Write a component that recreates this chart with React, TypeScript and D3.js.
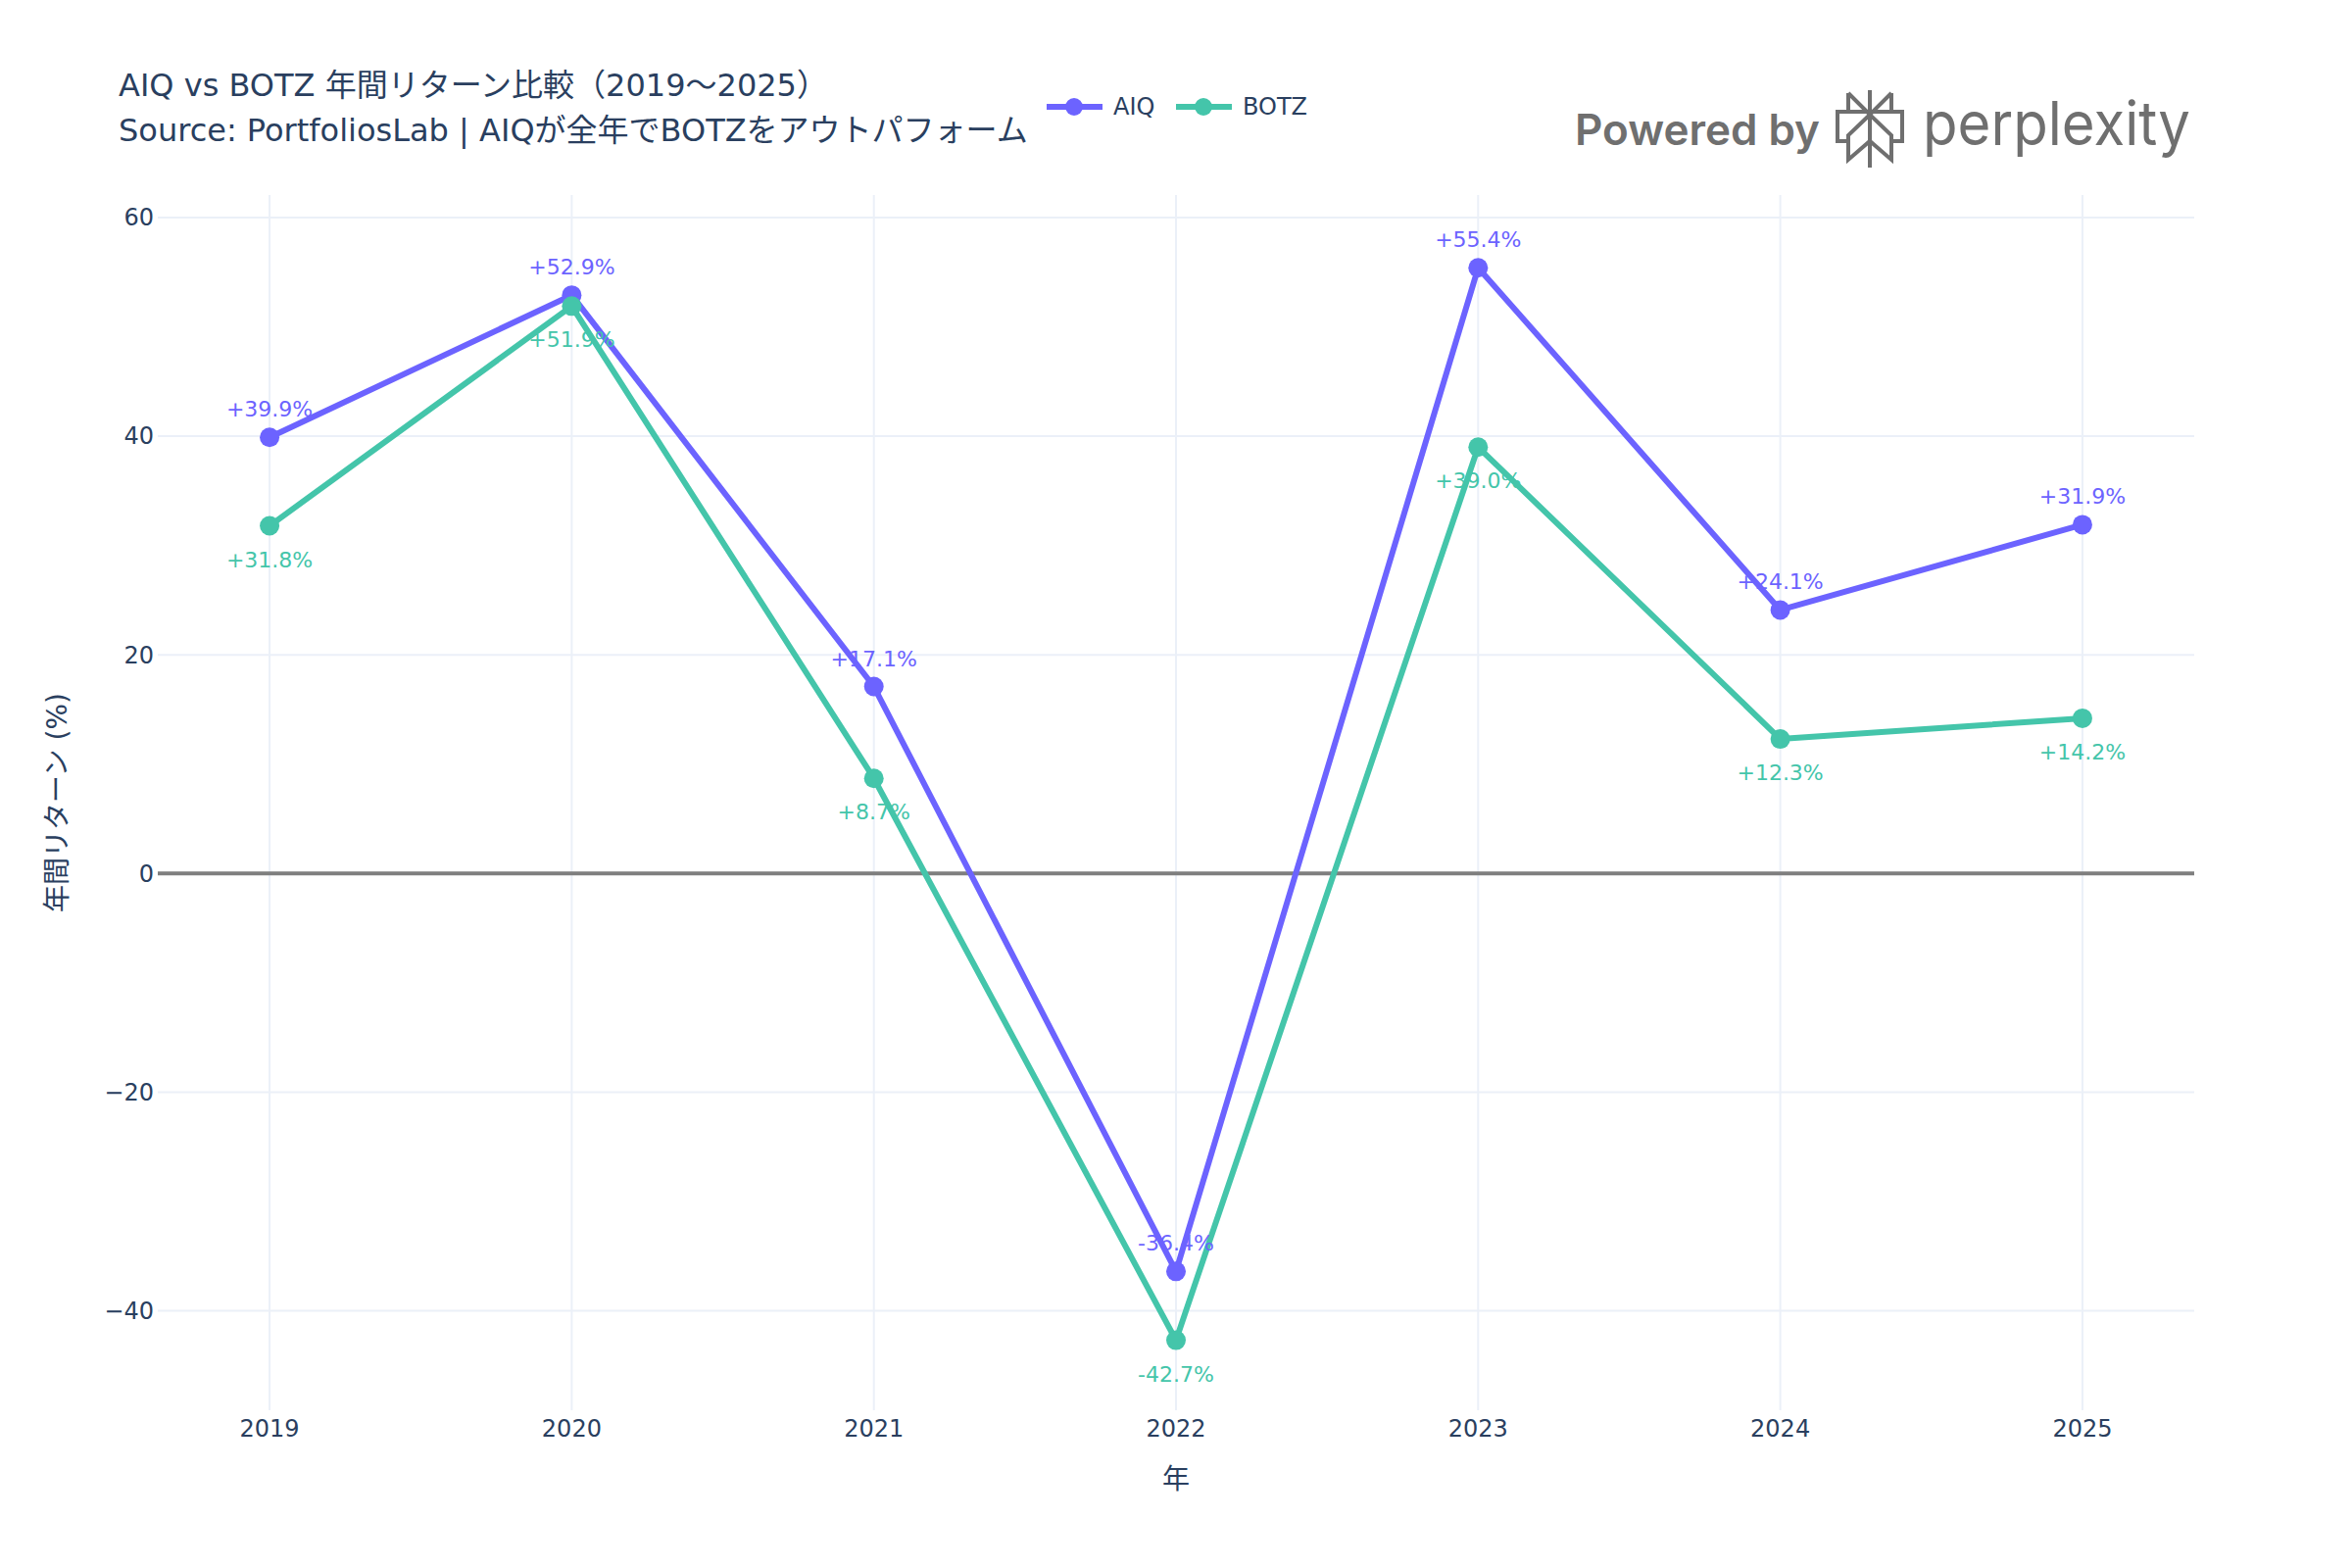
import * as d3 from "d3";

const years = [2019, 2020, 2021, 2022, 2023, 2024, 2025];
const aiqReturns = [39.9, 52.9, 17.1, -36.4, 55.4, 24.1, 31.9];
const botzReturns = [31.8, 51.9, 8.7, -42.7, 39.0, 12.3, 14.2];
const yTicks = [-40, -20, 0, 20, 40, 60];

const series = [
  { name: "AIQ", values: aiqReturns, color: "#6C63FF", labelPos: "top" },
  { name: "BOTZ", values: botzReturns, color: "#44C5AA", labelPos: "bottom" },
];

const W = 2400;
const H = 1600;
const plot = { left: 161, right: 2239, top: 199, bottom: 1439 };
const FONT = "'DejaVu Sans', 'Noto Sans CJK JP', sans-serif";
const INK = "#2a3f5f";

const fmt = (v: number) => (v >= 0 ? `+${v.toFixed(1)}%` : `${v.toFixed(1)}%`);

export default function App() {
  const x = d3.scaleLinear().domain([2018.63, 2025.37]).range([plot.left, plot.right]);
  const y = d3.scaleLinear().domain([-49.1, 62.06]).range([plot.bottom, plot.top]);

  const line = d3
    .line<number>()
    .x((_, i) => x(years[i]))
    .y((d) => y(d));

  return (
    <svg
      width={W}
      height={H}
      style={{ position: "absolute", left: 0, top: 0, background: "#fff" }}
      fontFamily={FONT}
    >
      <rect width={W} height={H} fill="#fff" />

      {/* grid */}
      {years.map((yr) => (
        <line key={`vx${yr}`} x1={x(yr)} x2={x(yr)} y1={plot.top} y2={plot.bottom} stroke="#EBF0F8" strokeWidth={2} />
      ))}
      {yTicks.filter((t) => t !== 0).map((t) => (
        <line key={`hy${t}`} x1={plot.left} x2={plot.right} y1={y(t)} y2={y(t)} stroke="#EBF0F8" strokeWidth={2} />
      ))}
      <line x1={plot.left} x2={plot.right} y1={y(0)} y2={y(0)} stroke="#7f7f7f" strokeWidth={4} />

      {/* y ticks */}
      {yTicks.map((t) => (
        <text key={`yt${t}`} x={157} y={y(t)} dy="0.35em" textAnchor="end" fontSize={24} fill={INK}>
          {t < 0 ? `\u2212${Math.abs(t)}` : t}
        </text>
      ))}
      {/* x ticks */}
      {years.map((yr) => (
        <text key={`xt${yr}`} x={x(yr)} y={1466} textAnchor="middle" fontSize={24} fill={INK}>
          {yr}
        </text>
      ))}

      {/* axis titles */}
      <text x={1200} y={1519} textAnchor="middle" fontSize={28} fill={INK}>年</text>
      <text
        transform={`translate(68,${(plot.top + plot.bottom) / 2}) rotate(-90)`}
        textAnchor="middle"
        fontSize={28}
        fill={INK}
      >
        年間リターン (%)
      </text>

      {/* series */}
      {series.map((s) => (
        <g key={s.name}>
          <path d={line(s.values) || ""} fill="none" stroke={s.color} strokeWidth={6} strokeLinejoin="round" />
          {s.values.map((v, i) => (
            <circle key={i} cx={x(years[i])} cy={y(v)} r={10} fill={s.color} />
          ))}
        </g>
      ))}
      {series.map((s) =>
        s.values.map((v, i) => (
          <text
            key={`${s.name}l${i}`}
            x={x(years[i])}
            y={s.labelPos === "top" ? y(v) - 21 : y(v) + 42}
            textAnchor="middle"
            fontSize={22}
            fill={s.color}
          >
            {fmt(v)}
          </text>
        ))
      )}

      {/* title */}
      <text x={121} y={98} fontSize={32} fill={INK}>
        AIQ vs BOTZ 年間リターン比較（2019〜2025）
      </text>
      <text x={121} y={144} fontSize={32} fill={INK}>
        Source: PortfoliosLab | AIQが全年でBOTZをアウトパフォーム
      </text>

      {/* legend */}
      {series.map((s, i) => {
        const lx = 1068 + i * 132;
        return (
          <g key={`lg${s.name}`}>
            <line x1={lx} x2={lx + 57} y1={109} y2={109} stroke={s.color} strokeWidth={6} />
            <circle cx={lx + 28} cy={109} r={9} fill={s.color} />
            <text x={lx + 68} y={109} dy="0.35em" fontSize={24} fill={INK}>
              {s.name}
            </text>
          </g>
        );
      })}

      {/* watermark */}
      <g fill="#6f6f6f">
        <text x={1607} y={148} fontSize={44} fontWeight={600} fontFamily="Inter, 'DejaVu Sans', sans-serif" textLength={250} lengthAdjust="spacingAndGlyphs">
          Powered by
        </text>
        <g transform="translate(1873,92)" fill="none" stroke="#6f6f6f" strokeWidth={4}>
          <path d="M35 0 V79" />
          <path d="M13 3 L35 25 L57 3 M13 3 V22 M57 3 V22" />
          <path d="M13 22 H2 V52 H13 M57 22 H68 V52 H57" />
          <path d="M35 25 L13 46 V71 L35 52 L57 71 V46 Z" />
          <path d="M13 22 H57" />
        </g>
        <text x={1962} y={148} fontSize={62} fontFamily="Inter, 'DejaVu Sans', sans-serif" textLength={273} lengthAdjust="spacingAndGlyphs">
          perplexity
        </text>
      </g>
    </svg>
  );
}
